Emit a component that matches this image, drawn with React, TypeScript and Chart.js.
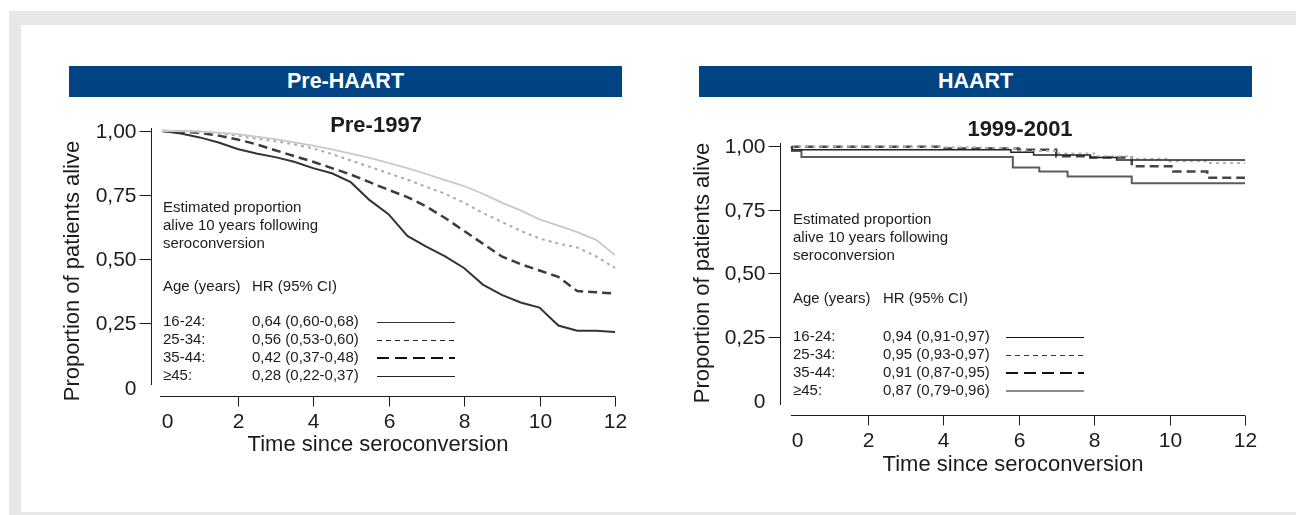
import React, { useEffect, useRef } from "react";
import { Chart, registerables } from "chart.js";

Chart.register(...registerables);

// ---- Pre-HAART (pre-1997) Kaplan-Meier estimates, sampled every half year ----
const preYears = [0, 0.5, 1, 1.5, 2, 2.5, 3, 3.5, 4, 4.5, 5, 5.5, 6, 6.5, 7, 7.5, 8, 8.5, 9, 9.5, 10, 10.5, 11, 11.5, 12];
const pre1624 = [1, 1, 0.998, 0.994, 0.988, 0.978, 0.968, 0.956, 0.943, 0.928, 0.912, 0.895, 0.875, 0.855, 0.832, 0.808, 0.785, 0.755, 0.72, 0.69, 0.655, 0.63, 0.605, 0.575, 0.515];
const pre2534 = [1, 1, 0.997, 0.99, 0.982, 0.97, 0.96, 0.948, 0.932, 0.91, 0.885, 0.86, 0.835, 0.81, 0.782, 0.755, 0.72, 0.68, 0.645, 0.61, 0.58, 0.56, 0.545, 0.51, 0.465];
const pre3544 = [1, 0.998, 0.993, 0.982, 0.967, 0.948, 0.925, 0.902, 0.88, 0.855, 0.83, 0.8, 0.77, 0.742, 0.705, 0.66, 0.61, 0.56, 0.51, 0.48, 0.455, 0.43, 0.375, 0.37, 0.365];
const pre45 = [1, 0.99, 0.975, 0.955, 0.93, 0.912, 0.898, 0.88, 0.855, 0.835, 0.8, 0.73, 0.675, 0.59, 0.548, 0.51, 0.465, 0.4, 0.36, 0.33, 0.31, 0.24, 0.22, 0.22, 0.215];

// ---- HAART (1999-2001) step estimates: event times and survival after each step ----
const haart1624Years = [0, 5.8, 6.4, 7.9, 8.6, 12];
const haart1624 = [1, 0.985, 0.975, 0.965, 0.955, 0.945];
const haart2534Years = [0, 3, 5, 6, 7, 8, 9, 10, 11, 12];
const haart2534 = [1, 0.998, 0.995, 0.99, 0.98, 0.97, 0.96, 0.95, 0.94, 0.933];
const haart3544Years = [0, 4, 6, 7, 7.9, 9, 10.1, 11, 12];
const haart3544 = [1, 0.997, 0.99, 0.985, 0.96, 0.955, 0.92, 0.9, 0.875];
const haart45Years = [0, 0.25, 5.85, 6.55, 7.3, 9, 10.75, 12];
const haart45 = [1, 0.98, 0.957, 0.915, 0.9, 0.88, 0.853, 0.853];

// ---- Labels ----
const ageGroups = ["16-24:", "25-34:", "35-44:", "\u226545:"];
const preHR = ["0,64 (0,60-0,68)", "0,56 (0,53-0,60)", "0,42 (0,37-0,48)", "0,28 (0,22-0,37)"];
const haartHR = ["0,94 (0,91-0,97)", "0,95 (0,93-0,97)", "0,91 (0,87-0,95)", "0,87 (0,79-0,96)"];
const noteLines = ["Estimated proportion", "alive 10 years following", "seroconversion"];
const yTickValues = [0, 0.25, 0.5, 0.75, 1];
const yTickLabels = ["0", "0,25", "0,50", "0,75", "1,00"];
const xTickValues = [0, 2, 4, 6, 8, 10, 12];

const FONT = '"Liberation Sans", Arial, Helvetica, sans-serif';
const INK = "#1c1c1c";
const BLUE = "#004483";

type LineStyle = { color: string; width: number; dash: number[] };
type SeriesCfg = { xs: number[]; ys: number[]; style: LineStyle; stepped: boolean };

type PanelCfg = {
  ox: number; oy: number; w: number; h: number;
  x0: number; x12: number; y1: number; y0: number;
  yAxisX: number; yAxisTop: number; yAxisBottom: number;
  xAxisY: number; xAxisLeft: number;
  yTitleX: number; yTitleY: number;
  xTitleX: number; xTitleY: number;
  title: string; titleX: number; titleY: number;
  noteX: number; noteY: number; hrX: number; ageY: number; rowY: number;
  sampleX1: number; sampleX2: number;
  hr: string[];
  samples: LineStyle[];
  series: SeriesCfg[];
};

const preCfg: PanelCfg = {
  ox: 30, oy: 100, w: 630, h: 390,
  x0: 162, x12: 615, y1: 131, y0: 387,
  yAxisX: 151, yAxisTop: 128, yAxisBottom: 385,
  xAxisY: 396, xAxisLeft: 160,
  yTitleX: 73, yTitleY: 271,
  xTitleX: 378, xTitleY: 445,
  title: "Pre-1997", titleX: 376, titleY: 126,
  noteX: 163, noteY: 208, hrX: 252, ageY: 287, rowY: 322,
  sampleX1: 377, sampleX2: 455,
  hr: preHR,
  samples: [
    { color: "#333", width: 1, dash: [] },
    { color: "#222", width: 1, dash: [5, 4] },
    { color: "#111", width: 2, dash: [12, 6] },
    { color: "#222", width: 1, dash: [] },
  ],
  series: [
    { xs: preYears, ys: pre1624, style: { color: "#c8c8c8", width: 1.8, dash: [] }, stepped: false },
    { xs: preYears, ys: pre2534, style: { color: "#ababab", width: 2, dash: [3, 4] }, stepped: false },
    { xs: preYears, ys: pre3544, style: { color: "#3c3c3c", width: 2.5, dash: [9, 5] }, stepped: false },
    { xs: preYears, ys: pre45, style: { color: "#333333", width: 2, dash: [] }, stepped: false },
  ],
};

const haartCfg: PanelCfg = {
  ox: 660, oy: 100, w: 636, h: 390,
  x0: 792, x12: 1245, y1: 146, y0: 400,
  yAxisX: 780, yAxisTop: 143, yAxisBottom: 405,
  xAxisY: 415, xAxisLeft: 791,
  yTitleX: 703, yTitleY: 273,
  xTitleX: 1013, xTitleY: 465,
  title: "1999-2001", titleX: 1020, titleY: 130,
  noteX: 793, noteY: 220, hrX: 883, ageY: 299, rowY: 337,
  sampleX1: 1006, sampleX2: 1084,
  hr: haartHR,
  samples: [
    { color: "#111", width: 1, dash: [] },
    { color: "#333", width: 1, dash: [5, 4] },
    { color: "#111", width: 2, dash: [12, 6] },
    { color: "#666", width: 1.5, dash: [] },
  ],
  series: [
    { xs: haart1624Years, ys: haart1624, style: { color: "#222222", width: 1.5, dash: [] }, stepped: true },
    { xs: haart2534Years, ys: haart2534, style: { color: "#b5b5b5", width: 2, dash: [3, 4] }, stepped: true },
    { xs: haart3544Years, ys: haart3544, style: { color: "#444444", width: 2.5, dash: [9, 5] }, stepped: true },
    { xs: haart45Years, ys: haart45, style: { color: "#5c5c5c", width: 2, dash: [] }, stepped: true },
  ],
};

function makeDecor(cfg: PanelCfg) {
  return {
    id: "kmDecor",
    afterDatasetsDraw(chart: any) {
      const ctx: CanvasRenderingContext2D = chart.ctx;
      const xs = chart.scales.x;
      const ys = chart.scales.y;
      const px = (v: number) => v - cfg.ox;
      const py = (v: number) => v - cfg.oy;
      const seg = (a: number, b: number, c: number, d: number) => {
        ctx.beginPath();
        ctx.moveTo(a, b);
        ctx.lineTo(c, d);
        ctx.stroke();
      };
      ctx.save();
      ctx.strokeStyle = INK;
      ctx.fillStyle = INK;
      ctx.lineWidth = 1;
      ctx.setLineDash([]);

      // y axis, ticks and labels
      const ax = Math.round(px(cfg.yAxisX)) + 0.5;
      seg(ax, py(cfg.yAxisTop), ax, py(cfg.yAxisBottom));
      ctx.font = `21px ${FONT}`;
      ctx.textAlign = "right";
      ctx.textBaseline = "middle";
      yTickValues.forEach((v, i) => {
        const y = Math.round(ys.getPixelForValue(v)) + 0.5;
        if (v > 0) seg(ax - 12, y, ax, y);
        ctx.fillText(yTickLabels[i], ax - 15, y + (v > 0 ? 1 : 2));
      });

      // x axis, ticks and labels
      const ay = Math.round(py(cfg.xAxisY)) + 0.5;
      seg(px(cfg.xAxisLeft), ay, xs.getPixelForValue(12), ay);
      ctx.textAlign = "center";
      xTickValues.forEach((v) => {
        const x = Math.round(xs.getPixelForValue(v)) + 0.5;
        if (v > 0) seg(x, ay, x, ay + 10);
        ctx.fillText(String(v), x + (v === 0 ? 5 : 0), ay + 26);
      });

      // axis titles
      ctx.font = `22px ${FONT}`;
      ctx.fillText("Time since seroconversion", px(cfg.xTitleX), py(cfg.xTitleY));
      ctx.save();
      ctx.translate(px(cfg.yTitleX), py(cfg.yTitleY));
      ctx.rotate(-Math.PI / 2);
      ctx.fillText("Proportion of patients alive", 0, 0);
      ctx.restore();

      // panel title
      ctx.font = `bold 22px ${FONT}`;
      ctx.fillText(cfg.title, px(cfg.titleX), py(cfg.titleY));

      // legend block
      ctx.font = `15px ${FONT}`;
      ctx.textAlign = "left";
      noteLines.forEach((t, i) => ctx.fillText(t, px(cfg.noteX), py(cfg.noteY + i * 18)));
      ctx.fillText("Age (years)", px(cfg.noteX), py(cfg.ageY));
      ctx.fillText("HR (95% CI)", px(cfg.hrX), py(cfg.ageY));
      ageGroups.forEach((g, i) => {
        const y = py(cfg.rowY + i * 18);
        ctx.fillText(g, px(cfg.noteX), y);
        ctx.fillText(cfg.hr[i], px(cfg.hrX), y);
        const s = cfg.samples[i];
        ctx.save();
        ctx.strokeStyle = s.color;
        ctx.lineWidth = s.width;
        ctx.setLineDash(s.dash);
        const ly = Math.round(y) + (s.width % 2 === 1 ? 0.5 : 0);
        seg(px(cfg.sampleX1), ly, px(cfg.sampleX2), ly);
        ctx.restore();
      });
      ctx.restore();
    },
  };
}

function KMPanel({ cfg }: { cfg: PanelCfg }) {
  const ref = useRef<HTMLCanvasElement | null>(null);
  useEffect(() => {
    if (!ref.current) return;
    const chart = new Chart(ref.current, {
      type: "line",
      data: {
        datasets: cfg.series.map((s) => ({
          data: s.xs.map((x, i) => ({ x, y: s.ys[i] })),
          borderColor: s.style.color,
          borderWidth: s.style.width,
          borderDash: s.style.dash,
          borderCapStyle: "butt",
          pointRadius: 0,
          tension: 0,
          fill: false,
          stepped: s.stepped ? "after" : false,
          clip: false,
        })),
      } as any,
      options: {
        responsive: false,
        animation: false,
        devicePixelRatio: 1,
        events: [],
        layout: {
          padding: {
            left: cfg.x0 - cfg.ox,
            right: cfg.ox + cfg.w - cfg.x12,
            top: cfg.y1 - cfg.oy,
            bottom: cfg.oy + cfg.h - cfg.y0,
          },
        },
        scales: {
          x: { type: "linear", min: 0, max: 12, display: false },
          y: { type: "linear", min: 0, max: 1, display: false },
        },
        plugins: {
          legend: { display: false },
          tooltip: { enabled: false },
          title: { display: false },
        },
      } as any,
      plugins: [makeDecor(cfg)],
    });
    return () => chart.destroy();
  }, [cfg]);
  return (
    <canvas
      ref={ref}
      width={cfg.w}
      height={cfg.h}
      style={{ position: "absolute", left: cfg.ox, top: cfg.oy, width: cfg.w, height: cfg.h }}
    />
  );
}

function Header({ left, text }: { left: number; text: string }) {
  return (
    <div
      style={{
        position: "absolute",
        left,
        top: 66,
        width: 553,
        height: 31,
        background: BLUE,
        color: "#fff",
        font: `bold 21.5px ${FONT}`,
        lineHeight: "31px",
        textAlign: "center",
      }}
    >
      {text}
    </div>
  );
}

export default function App() {
  return (
    <div style={{ position: "absolute", left: 0, top: 0, width: 1296, height: 515, background: "#fff", overflow: "hidden" }}>
      <div style={{ position: "absolute", left: 9, top: 11, width: 1287, height: 504, background: "#e6e7e8" }} />
      <div style={{ position: "absolute", left: 21, top: 25, width: 1275, height: 487, background: "#fff" }} />
      <Header left={69} text="Pre-HAART" />
      <Header left={699} text="HAART" />
      <KMPanel cfg={preCfg} />
      <KMPanel cfg={haartCfg} />
    </div>
  );
}
